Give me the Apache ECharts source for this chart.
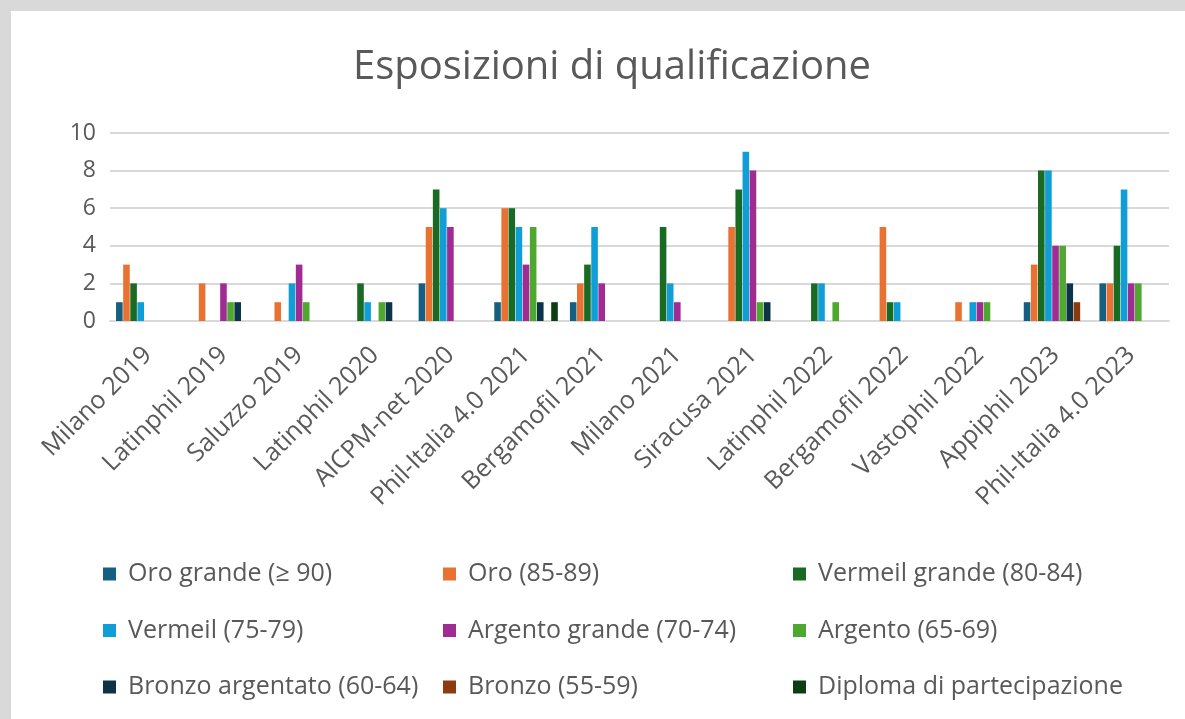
<!DOCTYPE html>
<html>
<head>
<meta charset="utf-8">
<script src="https://cdn.jsdelivr.net/npm/echarts@6/dist/echarts.min.js"></script>
<style>
  html, body { margin: 0; padding: 0; background: #d9d9d9; }
  #chart { position: absolute; left: 11px; top: 11px; width: 1174px; height: 708px; background: #fff; }
</style>
</head>
<body>
<div id="chart"></div>
<script>
// categorie (esposizioni)
var categories = ['Milano 2019', 'Latinphil 2019', 'Saluzzo 2019', 'Latinphil 2020', 'AICPM-net 2020',
  'Phil-Italia 4.0 2021', 'Bergamofil 2021', 'Milano 2021', 'Siracusa 2021', 'Latinphil 2022',
  'Bergamofil 2022', 'Vastophil 2022', 'Appiphil 2023', 'Phil-Italia 4.0 2023'];

// valori per medaglia
var oroGrande     = [1, 0, 0, 0, 2, 1, 1, 0, 0, 0, 0, 0, 1, 2];
var oro           = [3, 2, 1, 0, 5, 6, 2, 0, 5, 0, 5, 1, 3, 2];
var vermeilGrande = [2, 0, 0, 2, 7, 6, 3, 5, 7, 2, 1, 0, 8, 4];
var vermeil       = [1, 0, 2, 1, 6, 5, 5, 2, 9, 2, 1, 1, 8, 7];
var argentoGrande = [0, 2, 3, 0, 5, 3, 2, 1, 8, 0, 0, 1, 4, 2];
var argento       = [0, 1, 1, 1, 0, 5, 0, 0, 1, 1, 0, 1, 4, 2];
var bronzoArg     = [0, 1, 0, 1, 0, 1, 0, 0, 1, 0, 0, 0, 2, 0];
var bronzo        = [0, 0, 0, 0, 0, 0, 0, 0, 0, 0, 0, 0, 1, 0];
var diploma       = [0, 0, 0, 0, 0, 1, 0, 0, 0, 0, 0, 0, 0, 0];

// nomi serie
var seriesNames = ['Oro grande (≥ 90)', 'Oro (85-89)', 'Vermeil grande (80-84)',
  'Vermeil (75-79)', 'Argento grande (70-74)', 'Argento (65-69)',
  'Bronzo argentato (60-64)', 'Bronzo (55-59)', 'Diploma di partecipazione'];
var seriesData = [oroGrande, oro, vermeilGrande, vermeil, argentoGrande, argento, bronzoArg, bronzo, diploma];

// tick asse y
var yTicks = [0, 2, 4, 6, 8, 10];

var colors = ['#156082', '#E97132', '#196B24', '#0F9ED5', '#A02B93', '#4EA72E', '#0C3347', '#8E3A10', '#0E3D14'];

var textColor = '#595959';
var fontFamily = '"Open Sans", sans-serif';

var chart = echarts.init(document.getElementById('chart'));

// legenda: tre colonne
function legendCol(idx, left) {
  return {
    orient: 'vertical',
    left: left,
    top: 544,
    itemWidth: 13,
    itemHeight: 13,
    itemGap: 28.5,
    icon: 'rect',
    data: idx.map(function (i) { return seriesNames[i]; }),
    textStyle: { color: textColor, fontSize: 25, lineHeight: 28, fontFamily: fontFamily, padding: [0, 0, 0, 7] }
  };
}

var option = {
  color: colors,
  animation: false,
  textStyle: { fontFamily: fontFamily },
  title: {
    text: 'Esposizioni di qualificazione',
    left: 596,
    textAlign: 'center',
    top: 32,
    textStyle: { color: textColor, fontSize: 40, fontWeight: 'normal', fontFamily: fontFamily }
  },
  legend: [
    legendCol([0, 3, 6], 87),
    legendCol([1, 4, 7], 427),
    legendCol([2, 5, 8], 777)
  ],
  grid: { left: 99, right: 16, top: 122, height: 188 },
  xAxis: {
    type: 'category',
    data: categories,
    axisLine: { lineStyle: { color: '#d9d9d9', width: 2 } },
    axisTick: { show: false },
    axisLabel: { rotate: 45, color: textColor, fontSize: 25, margin: 30, interval: 0, fontFamily: fontFamily }
  },
  yAxis: {
    type: 'value',
    min: yTicks[0],
    max: yTicks[yTicks.length - 1],
    interval: 2,
    axisLine: { show: false },
    axisTick: { show: false },
    axisLabel: { color: textColor, fontSize: 23, margin: 14, fontFamily: fontFamily },
    splitLine: { lineStyle: { color: '#d9d9d9', width: 2 } }
  },
  series: seriesNames.map(function (name, i) {
    return {
      name: name,
      type: 'bar',
      data: seriesData[i],
      barGap: '8%',
      barCategoryGap: '16%'
    };
  })
};

chart.setOption(option);
</script>
</body>
</html>
